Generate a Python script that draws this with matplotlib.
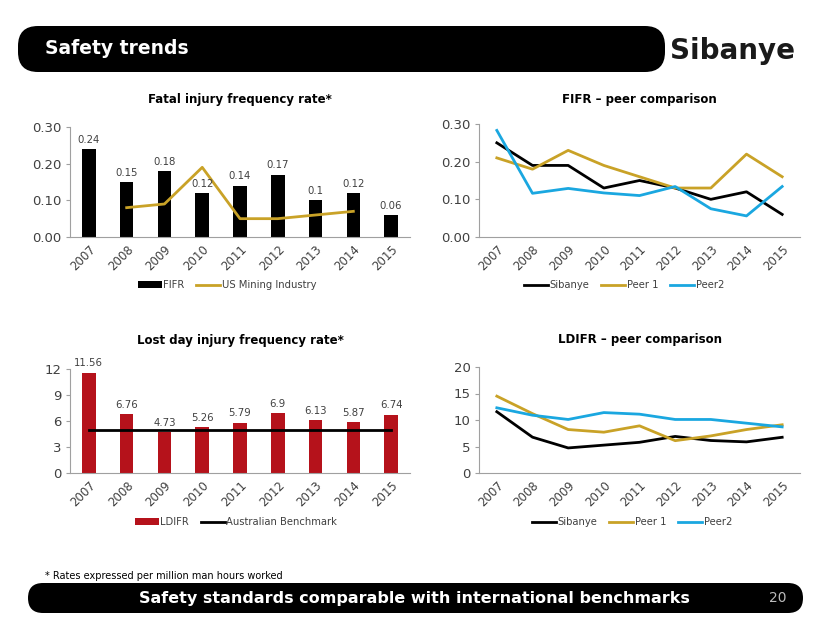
import matplotlib
matplotlib.use("Agg")
import matplotlib.pyplot as plt
from matplotlib.patches import FancyBboxPatch
import numpy as np

plt.rcParams['font.family'] = ['DejaVu Sans']

years = ['2007', '2008', '2009', '2010', '2011', '2012', '2013', '2014', '2015']
fifr = [0.24, 0.15, 0.18, 0.12, 0.14, 0.17, 0.10, 0.12, 0.06]
fifr_labels = ['0.24', '0.15', '0.18', '0.12', '0.14', '0.17', '0.1', '0.12', '0.06']
us_mining = [np.nan, 0.08, 0.09, 0.19, 0.05, 0.05, 0.06, 0.07, np.nan]

fifr_sibanye = [0.25, 0.19, 0.19, 0.13, 0.15, 0.13, 0.10, 0.12, 0.06]
fifr_peer1 = [0.21, 0.18, 0.23, 0.19, 0.16, 0.13, 0.13, 0.22, 0.16]
fifr_peer2 = [0.283, 0.116, 0.129, 0.117, 0.110, 0.134, 0.075, 0.056, 0.134]

ldifr = [11.56, 6.76, 4.73, 5.26, 5.79, 6.9, 6.13, 5.87, 6.74]
ldifr_labels = ['11.56', '6.76', '4.73', '5.26', '5.79', '6.9', '6.13', '5.87', '6.74']
aus_bench = [5, 5, 5, 5, 5, 5, 5, 5, 5]

ldifr_sibanye = [11.56, 6.76, 4.73, 5.26, 5.79, 6.9, 6.13, 5.87, 6.74]
ldifr_peer1 = [14.5, 11.2, 8.2, 7.7, 8.9, 6.1, 7.0, 8.2, 9.1]
ldifr_peer2 = [12.3, 10.9, 10.1, 11.4, 11.1, 10.1, 10.1, 9.4, 8.7]

GOLD = '#C9A227'
BLUE = '#1AA7E0'
RED = '#B5121B'
TXT = '#404040'
AX = '#A0A0A0'

W, H = 830, 623
fig = plt.figure(figsize=(W / 100, H / 100), dpi=100)

def px_axes(x0, x1, ytop, ybot):
    return fig.add_axes([x0 / W, 1 - ybot / H, (x1 - x0) / W, (ybot - ytop) / H])

def style(ax, ylim, yticks, yfmt):
    ax.set_xlim(-0.5, len(years) - 0.5)
    ax.set_ylim(*ylim)
    ax.set_yticks(yticks)
    ax.set_yticklabels([yfmt(v) for v in yticks])
    ax.set_xticks(range(len(years)))
    ax.set_xticklabels(years, rotation=45, ha='right', rotation_mode='anchor')
    for s in ['top', 'right']:
        ax.spines[s].set_visible(False)
    ax.spines['left'].set_color(AX)
    ax.spines['bottom'].set_color(AX)
    ax.tick_params(axis='y', colors=AX, labelcolor=TXT, labelsize=9.5, length=3, pad=3)
    ax.tick_params(axis='x', length=0, labelcolor=TXT, labelsize=8.5, pad=4)
    ax.patch.set_alpha(0)

def legend(ax, handles, cx, cy):
    ax.legend(handles=handles, loc='center', bbox_to_anchor=(cx / W, 1 - cy / H),
              bbox_transform=fig.transFigure, ncol=len(handles), frameon=False,
              fontsize=7.2, handlelength=2.4, handletextpad=0.15, columnspacing=1.2,
              labelcolor=TXT)

x = np.arange(len(years))

# Chart 1
ax1 = px_axes(70, 410, 127, 237)
b1 = ax1.bar(x, fifr, width=0.36, color='black', label='FIFR')
l1, = ax1.plot(x, us_mining, color=GOLD, lw=2, label='US Mining Industry')
for xi, v, t in zip(x, fifr, fifr_labels):
    ax1.text(xi, v + 0.012, t, ha='center', va='bottom', fontsize=7.3, color=TXT)
style(ax1, (0, 0.30), [0, 0.1, 0.2, 0.3], lambda v: f'{v:.2f}')
ax1.set_title('Fatal injury frequency rate*', fontsize=8.5, fontweight='bold', pad=17, color='black')
legend(ax1, [b1, l1], 227, 285)

# Chart 2
ax2 = px_axes(479, 800, 124, 237)
s2, = ax2.plot(x, fifr_sibanye, color='black', lw=2, label='Sibanye')
p12, = ax2.plot(x, fifr_peer1, color=GOLD, lw=2, label='Peer 1')
p22, = ax2.plot(x, fifr_peer2, color=BLUE, lw=2, label='Peer2')
style(ax2, (0, 0.30), [0, 0.1, 0.2, 0.3], lambda v: f'{v:.2f}')
ax2.set_title('FIFR \u2013 peer comparison', fontsize=8.5, fontweight='bold', pad=15, color='black')
legend(ax2, [s2, p12, p22], 624, 285)

# Chart 3
ax3 = px_axes(70, 410, 369, 473)
b3 = ax3.bar(x, ldifr, width=0.36, color=RED, label='LDIFR')
l3, = ax3.plot(x, aus_bench, color='black', lw=2, label='Australian Benchmark')
for xi, v, t in zip(x, ldifr, ldifr_labels):
    ax3.text(xi, v + 0.5, t, ha='center', va='bottom', fontsize=7.3, color=TXT)
style(ax3, (0, 12), [0, 3, 6, 9, 12], lambda v: f'{v:g}')
ax3.set_title('Lost day injury frequency rate*', fontsize=8.5, fontweight='bold', pad=18, color='black')
legend(ax3, [b3, l3], 236, 522)

# Chart 4
ax4 = px_axes(479, 800, 367, 473)
s4, = ax4.plot(x, ldifr_sibanye, color='black', lw=2, label='Sibanye')
p14, = ax4.plot(x, ldifr_peer1, color=GOLD, lw=2, label='Peer 1')
p24, = ax4.plot(x, ldifr_peer2, color=BLUE, lw=2, label='Peer2')
style(ax4, (0, 20), [0, 5, 10, 15, 20], lambda v: f'{v:g}')
ax4.set_title('LDIFR \u2013 peer comparison', fontsize=8.5, fontweight='bold', pad=17, color='black')
legend(ax4, [s4, p14, p24], 632, 522)

# Overlay for banners
bg = fig.add_axes([0, 0, 1, 1], zorder=-1)
bg.set_xlim(0, W)
bg.set_ylim(H, 0)
bg.axis('off')
bg.add_patch(FancyBboxPatch((18, 26), 647, 46, boxstyle='round,pad=0,rounding_size=20',
                            facecolor='black', edgecolor='none'))
bg.text(45, 48, 'Safety trends', color='white', fontsize=13.5, fontweight='bold', va='center', ha='left')
bg.text(732, 51, 'Sibanye', color='#1a1a1a', fontsize=20, fontweight='bold', va='center', ha='center')
bg.add_patch(FancyBboxPatch((28, 583), 775, 30, boxstyle='round,pad=0,rounding_size=15',
                            facecolor='black', edgecolor='none'))
bg.text(414, 598, 'Safety standards comparable with international benchmarks', color='white',
        fontsize=11.5, fontweight='bold', va='center', ha='center')
bg.text(778, 598, '20', color='#BBBBBB', fontsize=10, va='center', ha='center')
bg.text(45, 576, '* Rates expressed per million man hours worked', color='black', fontsize=7,
        va='center', ha='left')

fig.savefig('out.png', dpi=100)
